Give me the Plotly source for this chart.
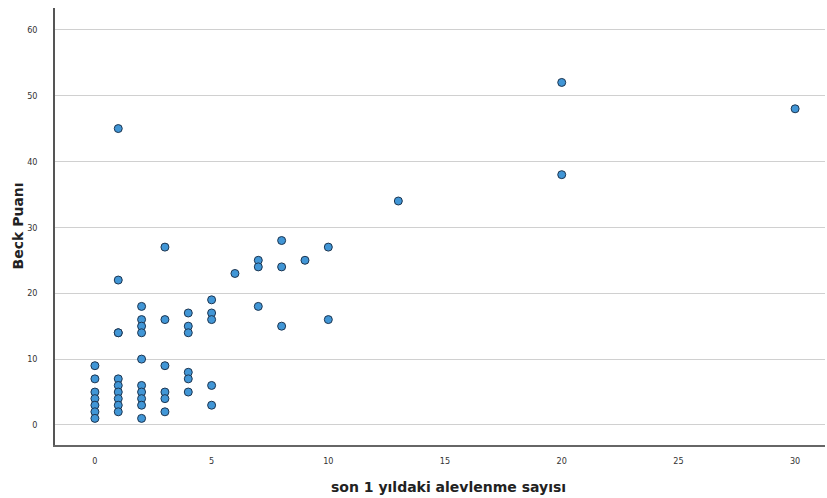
import plotly.graph_objects as go

# son 1 yıldaki alevlenme sayısı (x) and Beck Puanı (y)
x0 = [0, 0, 0, 0, 0, 0, 0]
y0 = [9, 7, 5, 4, 3, 2, 1]
x1 = [1, 1, 1, 1, 1, 1, 1, 1, 1, 1]
y1 = [45, 22, 14, 14, 7, 6, 5, 4, 3, 2]
x2 = [2, 2, 2, 2, 2, 2, 2, 2, 2, 2]
y2 = [18, 16, 15, 14, 10, 6, 5, 4, 3, 1]
x3 = [3, 3, 3, 3, 3, 3]
y3 = [27, 16, 9, 5, 4, 2]
x4 = [4, 4, 4, 4, 4, 4]
y4 = [17, 15, 14, 8, 7, 5]
x5 = [5, 5, 5, 5, 5]
y5 = [19, 17, 16, 6, 3]
x_rest = [6, 7, 7, 7, 8, 8, 8, 9, 10, 10, 13, 20, 20, 30]
y_rest = [23, 25, 24, 18, 28, 24, 15, 25, 27, 16, 34, 52, 38, 48]

x_vals = x0 + x1 + x2 + x3 + x4 + x5 + x_rest
y_vals = y0 + y1 + y2 + y3 + y4 + y5 + y_rest

x_ticks = [0, 5, 10, 15, 20, 25, 30]
y_ticks = [0, 10, 20, 30, 40, 50, 60]

fig = go.Figure()
fig.add_trace(go.Scatter(
    x=x_vals, y=y_vals, mode="markers",
    marker=dict(size=8, color="#4196d6", line=dict(color="#1d3550", width=1)),
    showlegend=False,
))

title_font = dict(family="DejaVu Sans, sans-serif", size=14, color="#222")
fig.update_layout(
    width=827, height=498,
    margin=dict(l=55, r=2, t=8, b=53, autoexpand=False),
    paper_bgcolor="white", plot_bgcolor="white",
    font=dict(family="DejaVu Sans, sans-serif", color="#222"),
    annotations=[
        dict(text="<b>son 1 yıldaki alevlenme sayısı</b>", xref="paper", yref="paper",
             x=(449 - 55) / 770, y=-(487 - 445) / 437, xanchor="center", yanchor="middle",
             showarrow=False, font=title_font),
        dict(text="<b>Beck Puanı</b>", xref="paper", yref="paper",
             x=-(55 - 17) / 770, y=0.5, xanchor="center", yanchor="middle", textangle=-90,
             showarrow=False, font=title_font),
    ],
)
fig.update_xaxes(
    automargin=False,
    range=[-1.71, 31.28], tickvals=x_ticks, ticks="", showgrid=False, zeroline=False,
    showline=True, linecolor="#666", linewidth=2,
    tickfont=dict(size=9, color="#333", family="DejaVu Sans Condensed, Liberation Sans Narrow, sans-serif"),
    ticklabelstandoff=6,
)
fig.update_yaxes(
    automargin=False,
    range=[-3.04, 63.3], tickvals=y_ticks, ticks="", showgrid=True, gridcolor="#d0d0d0", gridwidth=1,
    zeroline=False, showline=True, linecolor="#555", linewidth=1.5,
    tickfont=dict(size=9, color="#333", family="DejaVu Sans Condensed, Liberation Sans Narrow, sans-serif"),
    ticklabelstandoff=14,
)

fig.write_html("out.html", config={"displayModeBar": False},
               post_script="document.body.style.margin='0';document.body.style.overflow='hidden';")
